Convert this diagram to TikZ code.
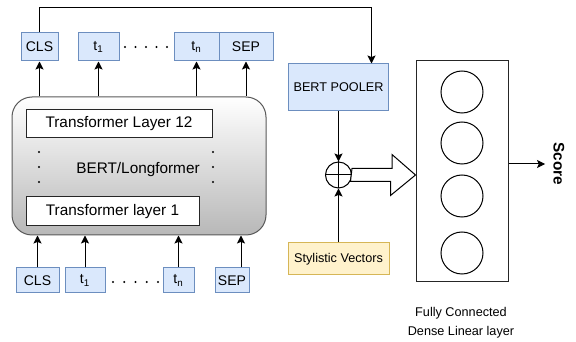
\documentclass[tikz,border=0pt]{standalone}
\usepackage{fontspec}
\setmainfont{Liberation Sans}
\usetikzlibrary{arrows.meta}
\definecolor{tokfill}{HTML}{DAE8FC}
\definecolor{tokdraw}{HTML}{6C8EBF}
\definecolor{stylfill}{HTML}{FFF2CC}
\definecolor{styldraw}{HTML}{D6B656}

\begin{document}
\begin{tikzpicture}[x=0.75pt,y=0.75pt,yscale=-1,xscale=1,
    line width=0.75pt,
    >={Stealth[length=6pt,width=6pt,inset=1.2pt]},
    boxsize/.style 2 args={minimum width=#1*0.75pt,minimum height=#2*0.75pt},
    token/.style={draw=tokdraw,fill=tokfill,inner sep=0pt,font=\fontsize{10.5}{12}\selectfont},
    layer/.style={draw=black!85,fill=white,inner sep=0pt,font=\fontsize{11.5}{13}\selectfont}]
    \useasboundingbox (0,0) rectangle (576,342);

    % Encoder block
    \node (enc) [draw=black!65,rounded corners=15pt,top color=white,bottom color=black!28,boxsize={254}{138}] at (139,166) {};
    \node (lay12) [layer,boxsize={186}{28}] at (119,124) {Transformer Layer 12};
    \node (lay1) [layer,boxsize={173}{29}] at (112.5,211.5) {Transformer layer 1};
    \node (enclbl) [font=\fontsize{11.5}{13}\selectfont] at (138,170) {BERT/Longformer};
    \foreach \y in {152,167,182} {
        \fill (39,\y) circle (1.2);
        \fill (213,\y) circle (1.2);
    }

    % Output tokens
    \node (clsout) [token,boxsize={37}{28}] at (39.5,47) {CLS};
    \node (t1out) [token,boxsize={41}{28}] at (98.5,47) {t\textsubscript{1}};
    \node (tnout) [token,boxsize={45}{28}] at (196.5,47) {t\textsubscript{n}};
    \node (sepout) [token,boxsize={54}{28}] at (246,47) {SEP};
    \foreach \x in {125,135.5,146,156.5,167}
        \fill (\x,47) circle (1.2);

    % Input tokens
    \node (clsin) [token,boxsize={43}{25}] at (37.5,280.5) {CLS};
    \node (t1in) [token,boxsize={40}{25}] at (85,280.5) {t\textsubscript{1}};
    \node (tnin) [token,boxsize={31}{25}] at (178.5,280.5) {t\textsubscript{n}};
    \node (sepin) [token,boxsize={34}{25}] at (232,280.5) {SEP};
    \foreach \x in {113,124.25,135.5,146.75,158}
        \fill (\x,282) circle (1.2);
    \coordinate (sepinarr) at ([xshift=6.75pt]sepin.north);

    \draw[->] (clsin.north) -- (clsin.north |- enc.south);
    \draw[->] (t1in.north) -- (t1in.north |- enc.south);
    \draw[->] (tnin.north) -- (tnin.north |- enc.south);
    \draw[->] (sepinarr) -- (sepinarr |- enc.south);

    \draw[->] (clsout.south |- enc.north) -- (clsout.south);
    \draw[->] (t1out.south |- enc.north) -- (t1out.south);
    \draw[->] (tnout.south |- enc.north) -- (tnout.south);
    \draw[->] (sepout.south |- enc.north) -- (sepout.south);

    % Pooler and stylistic vectors
    \node (pooler) [token,boxsize={100}{47},font=\fontsize{9.5}{11}\selectfont] at (338.5,87.5) {BERT POOLER};
    \node (stylvec) [draw=styldraw,fill=stylfill,boxsize={101}{32},inner sep=0pt,font=\fontsize{9.5}{11}\selectfont] at (338.5,259) {Stylistic Vectors};
    \node (plus) [draw,circle,minimum size=19.5pt,inner sep=0pt] at (338.5,175) {};
    \draw (plus.north) -- (plus.south) (plus.west) -- (plus.east);
    \coordinate (poolin) at ([xshift=24.75pt]pooler.north);

    \draw[->] (clsout.north) -- ++(0,-25) -| (poolin);
    \draw[->] (pooler.south) -- (plus.north);
    \draw[->] (stylvec.north) -- (plus.south);

    % Dense layer
    \node (dense) [draw=black!85,boxsize={92}{221}] at (462,171.5) {};
    \foreach \y [count=\i] in {92,143,196,253}
        \node (unit\i) [draw,circle,minimum size=31.5pt,inner sep=0pt] at (462,\y) {};
    \draw[fill=white] (plus.east) ++(0,-6.5) -- ++(40,0) -- ++(0,-14) -- (dense.west |- plus.center) -- ++(-25,20.5) -- ++(0,-14) -- ++(-40,0) -- cycle;
    \node (denselbl) [align=center,font=\fontsize{9.5}{14}\selectfont] at (461,322.5) {Fully Connected\\Dense Linear layer};

    % Output
    \node (score) [rotate=-90,font=\fontsize{11.5}{13}\selectfont\bfseries,inner sep=6pt] at (559,164) {Score};
    \draw[->] (score.south -| dense.east) -- (score.south);

\end{tikzpicture}
\end{document}
